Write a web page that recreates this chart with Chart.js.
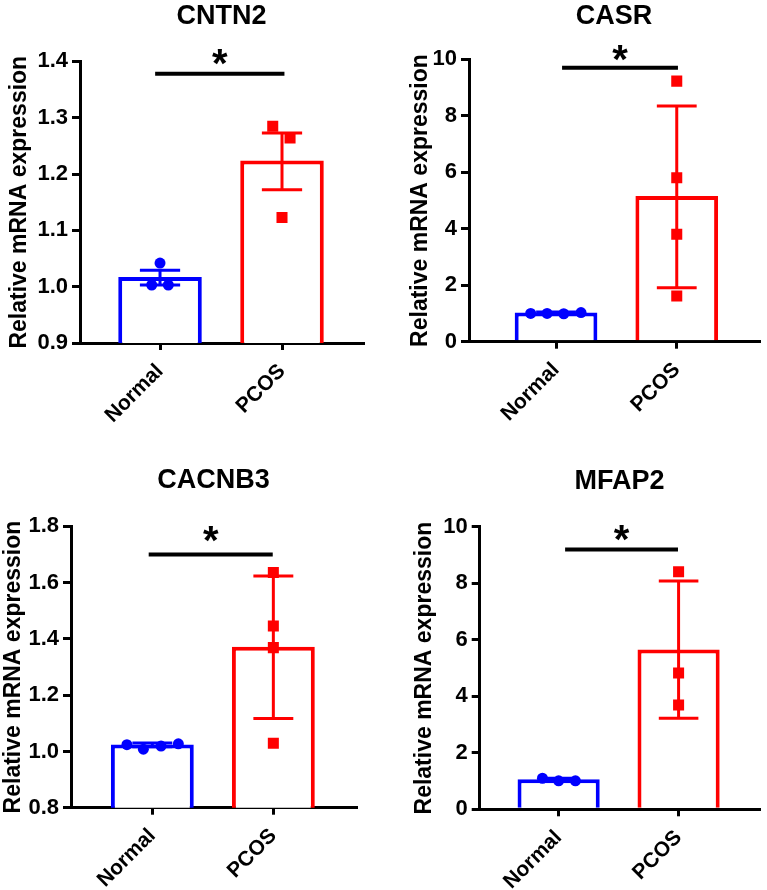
<!DOCTYPE html>
<html>
<head>
<meta charset="utf-8">
<script src="https://cdn.jsdelivr.net/npm/chart.js@4.4.1/dist/chart.umd.min.js"></script>
<style>
  body { margin: 0; background: #fff; }
  #wrap { position: relative; width: 767px; height: 890px; }
  canvas { position: absolute; }
</style>
</head>
<body>
<div id="wrap">
  <canvas id="p1" width="383" height="445" style="left:0;top:0"></canvas>
  <canvas id="p2" width="384" height="445" style="left:383px;top:0"></canvas>
  <canvas id="p3" width="383" height="445" style="left:0;top:445px"></canvas>
  <canvas id="p4" width="384" height="445" style="left:383px;top:445px"></canvas>
</div>
<script>
const groups = ['Normal', 'PCOS'];

// CNTN2
const cntn2Mean = [1.017, 1.224];
const cntn2ErrHi = [1.029, 1.273];
const cntn2ErrLo = [1.003, 1.172];
const cntn2NormalPts = [1.003, 1.042, 1.003];
const cntn2NormalPos = [-0.068, 0, 0.068];
const cntn2PcosPts = [1.285, 1.264, 1.123];
const cntn2PcosPos = [0.924, 1.066, 1];

// CASR
const casrMean = [1.03, 5.16];
const casrErrHi = [1.05, 8.35];
const casrErrLo = [0.99, 1.91];
const casrNormalPts = [1.0, 1.0, 0.99, 1.03];
const casrNormalPos = [-0.21, -0.074, 0.064, 0.207];
const casrPcosPts = [9.23, 5.81, 3.81, 1.62];
const casrPcosPos = [1, 1, 1, 1];

// CACNB3
const cacnb3Mean = [1.025, 1.372];
const cacnb3ErrHi = [1.03, 1.624];
const cacnb3ErrLo = [1.017, 1.117];
const cacnb3NormalPts = [1.024, 1.008, 1.019, 1.027];
const cacnb3NormalPos = [-0.21, -0.074, 0.072, 0.215];
const cacnb3PcosPts = [1.636, 1.446, 1.369, 1.029];
const cacnb3PcosPos = [1, 1, 1, 1];

// MFAP2
const mfap2Mean = [1.06, 5.66];
const mfap2ErrHi = [1.1, 8.08];
const mfap2ErrLo = [1.0, 3.22];
const mfap2NormalPts = [1.1, 1.01, 1.01];
const mfap2NormalPos = [-0.135, 0, 0.14];
const mfap2PcosPts = [8.41, 4.83, 3.69];
const mfap2PcosPos = [1, 1, 1];

// y axes
const geneNames = ['CNTN2', 'CASR', 'CACNB3', 'MFAP2'];
const yMin = [0.9, 0, 0.8, 0];
const yMax = [1.4, 10, 1.8, 10];
const yStep = [0.1, 2, 0.2, 2];
const yDecimals = [1, 0, 1, 0];

// significance bar and asterisk
const sigY = [1.378, 9.70, 1.70, 9.20];
const sigFrom = [-0.04, 0.05, -0.03, 0.054];
const sigTo = [1.02, 1.01, 0.995, 0.995];
const starY = [1.408, 10.21, 1.774, 9.80];

const BLUE = '#0000ff';
const RED = '#ff0000';
const FONT = '"Liberation Sans", Arial, sans-serif';
const CAP = 0.165;   // half width of error bar caps, x units

// placement of each panel inside its canvas
const layouts = [
  { id: 'p1', yW: 80,   xH: 102,   padR: 20, tTop: 0,  tBot: 29,   ytPad: 6,  xMin: -0.656, xMax: 1.664 },
  { id: 'p2', yW: 86,   xH: 103.3, padR: 7,  tTop: 0,  tBot: 27,   ytPad: 24, xMin: -0.721, xMax: 1.683 },
  { id: 'p3', yW: 71,   xH: 82.3,  padR: 27, tTop: 19, tBot: 30,   ytPad: 0,  xMin: -0.672, xMax: 1.683 },
  { id: 'p4', yW: 96.7, xH: 80.7,  padR: 4,  tTop: 20.5, tBot: 29, ytPad: 28, xMin: -0.658, xMax: 1.672 },
];

const panels = [
  { mean: cntn2Mean, hi: cntn2ErrHi, lo: cntn2ErrLo, nPts: cntn2NormalPts, nPos: cntn2NormalPos, pPts: cntn2PcosPts, pPos: cntn2PcosPos },
  { mean: casrMean, hi: casrErrHi, lo: casrErrLo, nPts: casrNormalPts, nPos: casrNormalPos, pPts: casrPcosPts, pPos: casrPcosPos },
  { mean: cacnb3Mean, hi: cacnb3ErrHi, lo: cacnb3ErrLo, nPts: cacnb3NormalPts, nPos: cacnb3NormalPos, pPts: cacnb3PcosPts, pPos: cacnb3PcosPos },
  { mean: mfap2Mean, hi: mfap2ErrHi, lo: mfap2ErrLo, nPts: mfap2NormalPts, nPos: mfap2NormalPos, pPts: mfap2PcosPts, pPos: mfap2PcosPos },
];

function errorBarPath(x, hi, lo) {
  return [
    { x: x - CAP, y: hi }, { x: x + CAP, y: hi }, { x: x, y: null },
    { x: x, y: hi }, { x: x, y: lo }, { x: x, y: null },
    { x: x - CAP, y: lo }, { x: x + CAP, y: lo },
  ];
}

// draws the "*" above the significance bar
const asteriskPlugin = {
  id: 'asterisk',
  afterDatasetsDraw(chart, args, opts) {
    const { ctx, scales: { x, y } } = chart;
    const px = x.getPixelForValue(opts.x);
    const py = y.getPixelForValue(opts.y);
    ctx.save();
    ctx.font = 'bold 40px ' + FONT;
    ctx.fillStyle = '#000';
    ctx.textAlign = 'center';
    const m = ctx.measureText('*');
    ctx.fillText('*', px, py + (m.actualBoundingBoxAscent - m.actualBoundingBoxDescent) / 2);
    ctx.restore();
  }
};

panels.forEach((p, k) => {
  const lay = layouts[k];
  const ctx = document.getElementById(lay.id).getContext('2d');

  new Chart(ctx, {
    type: 'bar',
    data: {
      datasets: [
        {
          type: 'scatter',
          data: p.nPts.map((v, i) => ({ x: p.nPos[i], y: v })),
          pointStyle: 'circle', pointRadius: 5.5,
          backgroundColor: BLUE, borderWidth: 0, order: 0,
        },
        {
          type: 'scatter',
          data: p.pPts.map((v, i) => ({ x: p.pPos[i], y: v })),
          pointStyle: 'rect', pointRadius: 7.8,
          backgroundColor: RED, borderWidth: 0, order: 1,
        },
        {
          type: 'line',
          data: errorBarPath(0, p.hi[0], p.lo[0]),
          borderColor: BLUE, borderWidth: 3, pointRadius: 0, spanGaps: false, order: 2,
        },
        {
          type: 'line',
          data: errorBarPath(1, p.hi[1], p.lo[1]),
          borderColor: RED, borderWidth: 3, pointRadius: 0, spanGaps: false, order: 3,
        },
        {
          type: 'line',
          data: [{ x: sigFrom[k], y: sigY[k] }, { x: sigTo[k], y: sigY[k] }],
          borderColor: '#000', borderWidth: 4, pointRadius: 0, order: 4,
        },
        {
          type: 'bar',
          data: groups.map((g, i) => ({ x: i, y: p.mean[i] })),
          backgroundColor: '#fff',
          borderColor: [BLUE, RED],
          borderWidth: 4,
          barPercentage: 0.685,
          categoryPercentage: 1,
          order: 5,
        },
      ]
    },
    options: {
      responsive: false,
      devicePixelRatio: 1,
      animation: false,
      events: [],
      layout: { padding: { left: 0, right: lay.padR, top: 0, bottom: 0 } },
      plugins: {
        legend: { display: false },
        tooltip: { enabled: false },
        title: {
          display: true,
          text: geneNames[k],
          fullSize: false,
          color: '#000',
          font: { family: FONT, size: 27, weight: 'bold' },
          padding: { top: lay.tTop, bottom: lay.tBot },
        },
        asterisk: { x: (sigFrom[k] + sigTo[k]) / 2, y: starY[k] },
      },
      scales: {
        x: {
          type: 'linear',
          offset: false,
          min: lay.xMin,
          max: lay.xMax,
          afterBuildTicks: s => { s.ticks = groups.map((g, i) => ({ value: i })); },
          afterFit: s => { s.height = lay.xH; },
          ticks: {
            callback: v => groups[v],
            minRotation: 45, maxRotation: 45,
            autoSkip: false,
            color: '#000',
            padding: 9,
            font: { family: FONT, size: 21, weight: 'bold' },
          },
          grid: { offset: false, drawOnChartArea: false, tickLength: 7, color: '#000', lineWidth: 3 },
          border: { color: '#000', width: 3 },
        },
        y: {
          min: yMin[k],
          max: yMax[k],
          afterFit: s => { s.width = lay.yW; },
          ticks: {
            stepSize: yStep[k],
            callback: v => v.toFixed(yDecimals[k]),
            color: '#000',
            padding: 4,
            font: { family: FONT, size: 22, weight: 'bold' },
          },
          grid: { drawOnChartArea: false, tickLength: 8, color: '#000', lineWidth: 3 },
          border: { color: '#000', width: 3 },
          title: {
            display: true,
            text: 'Relative mRNA expression',
            color: '#000',
            font: { family: FONT, size: 23, weight: 'bold' },
            padding: { top: lay.ytPad, bottom: 0 },
          },
        },
      },
    },
    plugins: [asteriskPlugin],
  });
});
</script>
</body>
</html>
